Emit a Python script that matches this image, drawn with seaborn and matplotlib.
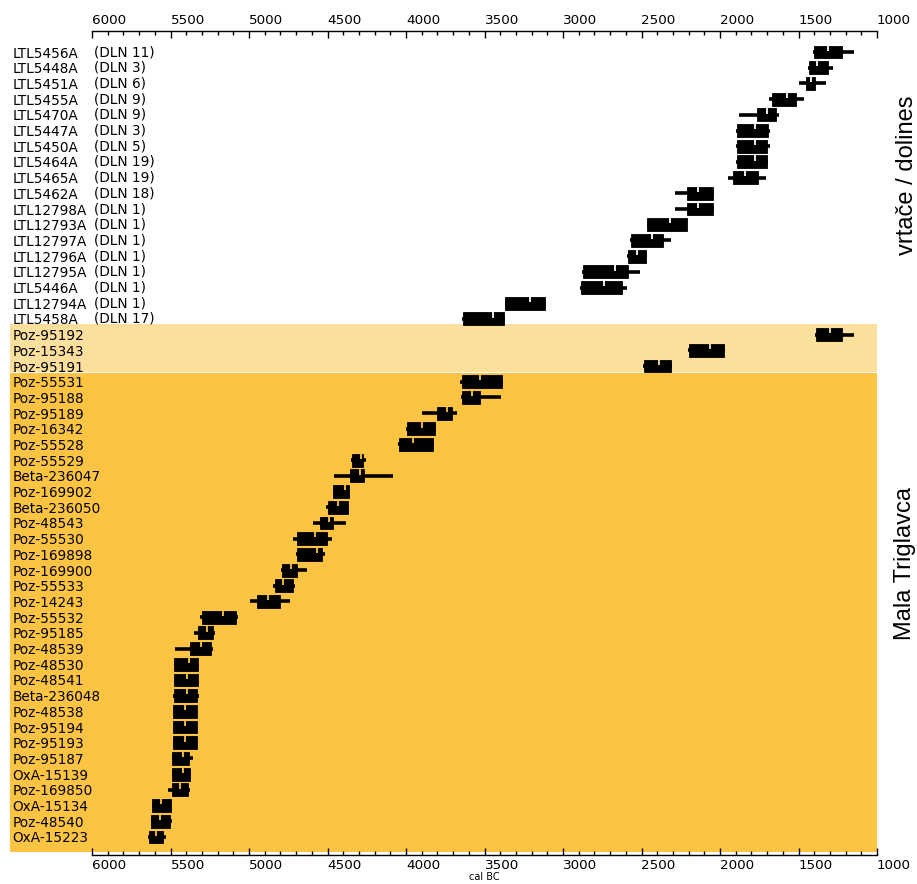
"""Calibrated radiocarbon ranges, dolines vs. Mala Triglavca"""

import matplotlib

matplotlib.use("Agg")
import matplotlib.pyplot as plt
import matplotlib.transforms as mtransforms
from matplotlib.patches import Rectangle
from matplotlib.ticker import MultipleLocator
import numpy as np
import seaborn as sns

# sample labels, top to bottom
labels = [
    "LTL5456A", "LTL5448A", "LTL5451A", "LTL5455A", "LTL5470A", "LTL5447A",
    "LTL5450A", "LTL5464A", "LTL5465A", "LTL5462A", "LTL12798A", "LTL12793A",
    "LTL12797A", "LTL12796A", "LTL12795A", "LTL5446A", "LTL12794A", "LTL5458A",
    "Poz-95192", "Poz-15343", "Poz-95191",
    "Poz-55531", "Poz-95188", "Poz-95189", "Poz-16342", "Poz-55528", "Poz-55529",
    "Beta-236047", "Poz-169902", "Beta-236050", "Poz-48543", "Poz-55530",
    "Poz-169898", "Poz-169900", "Poz-55533", "Poz-14243", "Poz-55532",
    "Poz-95185", "Poz-48539", "Poz-48530", "Poz-48541", "Beta-236048",
    "Poz-48538", "Poz-95194", "Poz-95193", "Poz-95187", "OxA-15139",
    "Poz-169850", "OxA-15134", "Poz-48540", "OxA-15223",
]
dln = [11, 3, 6, 9, 9, 3, 5, 19, 19, 18, 1, 1, 1, 1, 1, 1, 1, 17]

# 68% ranges (cal BC)
r68_old = [
    1404, 1436, 1455, 1666, 1764, 1892, 1892, 1892, 1918, 2210, 2210, 2465,
    2567, 2586, 2873, 2885, 3369, 3637,
    1391, 2197, 2484,
    3643, 3643, 3803, 3994, 4045, 4344, 4357, 4465, 4497, 4548, 4695, 4695,
    4790, 4835, 4949, 5299, 5325, 5376, 5478, 5478, 5478, 5485, 5485, 5485,
    5490, 5490, 5490, 5618, 5624, 5637,
]
r68_young = [
    1220, 1315, 1392, 1513, 1643, 1694, 1700, 1700, 1758, 2045, 2045, 2210,
    2363, 2471, 2586, 2624, 3115, 3376,
    1223, 1975, 2312,
    3389, 3529, 3707, 3815, 3828, 4274, 4268, 4363, 4369, 4465, 4504, 4535,
    4695, 4720, 4803, 5083, 5229, 5242, 5325, 5325, 5331, 5331, 5331, 5331,
    5382, 5376, 5389, 5497, 5503, 5548,
]
# 95% ranges (cal BC)
r95_old = [
    1410, 1440, 1500, 1691, 1878, 1895, 1895, 1895, 1949, 2287, 2287, 2465,
    2575, 2595, 2880, 2890, 3369, 3645,
    1395, 2205, 2490,
    3655, 3650, 3898, 4000, 4050, 4350, 4458, 4465, 4510, 4593, 4720, 4700,
    4795, 4845, 4994, 5312, 5350, 5472, 5478, 5478, 5485, 5485, 5485, 5485,
    5490, 5490, 5516, 5618, 5624, 5643,
]
r95_young = [
    1145, 1280, 1322, 1468, 1624, 1682, 1682, 1695, 1707, 2040, 2040, 2210,
    2312, 2465, 2510, 2592, 3115, 3370,
    1147, 1968, 2306,
    3380, 3395, 3675, 3808, 3820, 4255, 4083, 4363, 4360, 4382, 4472, 4515,
    4631, 4705, 4739, 5070, 5216, 5229, 5325, 5325, 5318, 5331, 5331, 5331,
    5357, 5370, 5376, 5497, 5490, 5529,
]
median = [
    1312, 1383, 1421, 1573, 1701, 1777, 1777, 1777, 1840, 2140, 2140, 2318,
    2433, 2529, 2669, 2739, 3210, 3446,
    1299, 2064, 2389,
    3529, 3580, 3739, 3898, 3956, 4287, 4293, 4389, 4433, 4491, 4580, 4567,
    4733, 4784, 4879, 5166, 5268, 5306, 5382, 5395, 5395, 5408, 5408, 5408,
    5420, 5420, 5440, 5561, 5567, 5592,
]

LIGHT = "#fcdf9c"
DARK = "#fdc444"

sns.set_style("ticks")
plt.rcParams["font.family"] = ["DejaVu Sans"]
plt.rcParams.update({"text.color": "black", "xtick.color": "black",
                     "ytick.color": "black", "axes.labelcolor": "black",
                     "axes.edgecolor": "black"})

fig = plt.figure(figsize=(9.17, 8.84), dpi=100)
ax = fig.add_axes([92 / 917, 1 - 855 / 884, 785 / 917, 824 / 884])

rows = np.arange(len(labels))
ax.set_xlim(6000, 1000)
ax.set_ylim(51.15, -1.34)

# group background bands, running under the labels too
trans = mtransforms.blended_transform_factory(fig.transFigure, ax.transData)
x0, x1 = 10 / 917, 877 / 917
for y_top, y_bot, col in [(17.35, 20.38, LIGHT), (20.46, 50.96, DARK)]:
    ax.add_patch(Rectangle((x0, y_top), x1 - x0, y_bot - y_top, transform=trans,
                           facecolor=col, edgecolor="none", zorder=0, clip_on=False))

bg = ["white"] * 18 + [LIGHT] * 3 + [DARK] * 30

# 95% lines, 68% boxes, median notch
ax.hlines(rows, r95_old, r95_young, colors="black", lw=2.6, zorder=2)
old = np.array(r68_old)
young = np.array(r68_young)
ax.barh(rows, old - young, left=young, height=0.82, color="black",
        edgecolor="black", linewidth=0.6, zorder=3)
ax.vlines(median, rows - 0.42, rows - 0.08, colors=bg, lw=1.3, zorder=4)

# dolines numbers
for r, n in enumerate(dln):
    ax.text(5985, r, f"(DLN {n})", ha="left", va="center", fontsize=9.8, zorder=5)

ax.set_yticks(rows)
ax.set_yticklabels(labels, fontsize=9.8, ha="left")
ax.tick_params(axis="y", length=0, pad=57.5)

ax.xaxis.set_major_locator(MultipleLocator(500))
ax.xaxis.set_minor_locator(MultipleLocator(100))
ax.tick_params(axis="x", which="both", direction="in", top=True, bottom=True,
               labeltop=True, labelbottom=True, labelsize=9.7, pad=3, width=1)
ax.tick_params(axis="x", which="major", length=5)
ax.tick_params(axis="x", which="minor", length=3)
for lab in ax.get_xticklabels(which="major"):
    lab.set_horizontalalignment("left")
for tick in ax.xaxis.get_major_ticks():
    tick.label2.set_horizontalalignment("left")
ax.set_xlabel("cal BC", fontsize=7, labelpad=0)

for side in ["left", "right"]:
    ax.spines[side].set_visible(False)
for side in ["top", "bottom"]:
    ax.spines[side].set_linewidth(1)
ax.patch.set_alpha(0)

fig.text(907 / 917, 1 - 175 / 884, "vrtače / dolines", rotation=90, ha="center",
         va="center", fontsize=17, family="Liberation Sans")
fig.text(905 / 917, 1 - 563 / 884, "Mala Triglavca", rotation=90, ha="center",
         va="center", fontsize=17, family="Liberation Sans")

plt.savefig("out.png", dpi=100)
plt.close()
